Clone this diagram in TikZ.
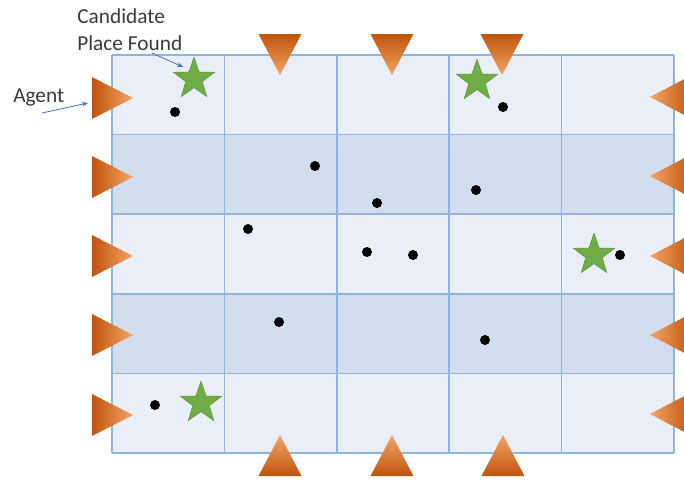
\documentclass[tikz,border=0pt]{standalone}
\usepackage{fontspec}
\setmainfont{Carlito}
\usetikzlibrary{shapes.geometric,arrows.meta}
\definecolor{rowlight}{HTML}{E9EEF7}
\definecolor{rowdark}{HTML}{D2DDEE}
\definecolor{gridblue}{HTML}{8DB4E2}
\definecolor{ordark}{HTML}{C0540E}
\definecolor{orlight}{HTML}{F4A466}
\definecolor{stargreen}{HTML}{70AD47}
\definecolor{pointer}{HTML}{4472C4}
\definecolor{labeltext}{HTML}{3A3A3A}
\begin{document}
\begin{tikzpicture}[x=0.75pt,y=-0.75pt,
  gridline/.style={draw=gridblue,line width=1.1pt},
  starmark/.style={star,star points=5,star point ratio=2.5,minimum size=32.5pt,inner sep=0pt,
    fill=stargreen,draw=stargreen!85!black,line width=0.4pt},
  dotmark/.style={circle,fill=black,minimum size=7.5pt,inner sep=0pt},
  lbl/.style={font=\fontsize{16}{20.25}\selectfont,text=labeltext,inner sep=0pt,align=left},
  ptr/.style={draw=pointer,line width=0.6pt,-{Stealth[length=4.5pt,width=3.5pt]}}]
\useasboundingbox (0,0) rectangle (684,479);
% rows
\fill[rowlight] (112,55) rectangle (674,134.6);
\fill[rowdark] (112,134.6) rectangle (674,214.2);
\fill[rowlight] (112,214.2) rectangle (674,293.8);
\fill[rowdark] (112,293.8) rectangle (674,373.4);
\fill[rowlight] (112,373.4) rectangle (674,453);
% grid
\foreach \gx in {112,224.4,336.8,449.2,561.6,674} {\draw[gridline] (\gx,55) -- (\gx,453);}
\foreach \gy in {55,134.6,214.2,293.8,373.4,453} {\draw[gridline] (112,\gy) -- (674,\gy);}
% left triangles (agents)
\foreach \ty in {98,177,256,335,415} {
  \shade[left color=ordark,right color=orlight] (92,{\ty-21}) -- (133,\ty) -- (92,{\ty+21}) -- cycle;}
% right triangles
\foreach \ty in {97,176,256,335,414} {
  \shade[left color=orlight,right color=ordark] (650,\ty) -- (692,{\ty-22}) -- (692,{\ty+22}) -- cycle;}
% top triangles
\foreach \tx in {280,392,502} {
  \shade[top color=ordark,bottom color=orlight] ({\tx-21.5},34) -- ({\tx+21.5},34) -- (\tx,75) -- cycle;}
% bottom triangles
\foreach \tx in {280,392,503} {
  \shade[top color=orlight,bottom color=ordark] (\tx,435) -- ({\tx+21.5},476) -- ({\tx-21.5},476) -- cycle;}
% stars
\node[starmark] (s1) at (194,79) {};
\node[starmark] (s2) at (477,81) {};
\node[starmark] (s3) at (594,255) {};
\node[starmark] (s4) at (201,403) {};
% dots
\node[dotmark] (d1) at (175,112) {};
\node[dotmark] (d2) at (503,107) {};
\node[dotmark] (d3) at (315,166) {};
\node[dotmark] (d4) at (377,203) {};
\node[dotmark] (d5) at (476,190) {};
\node[dotmark] (d6) at (248,229) {};
\node[dotmark] (d7) at (367,252) {};
\node[dotmark] (d8) at (413,255) {};
\node[dotmark] (d9) at (620,255) {};
\node[dotmark] (d10) at (279,322) {};
\node[dotmark] (d11) at (485,340) {};
\node[dotmark] (d12) at (155,405) {};
% labels
\node[lbl,anchor=north west] (cand) at (77,8) {Candidate\\Place Found};
\node[lbl,anchor=base west] (agent) at (13,102) {Agent};
\coordinate (agentfrom) at (42,113);
\coordinate (agentto) at (88,103);
\coordinate (candfrom) at (152,53);
\coordinate (candto) at (183,67);
\draw[ptr] (agentfrom) -- (agentto);
\draw[ptr] (candfrom) -- (candto);
\end{tikzpicture}
\end{document}
